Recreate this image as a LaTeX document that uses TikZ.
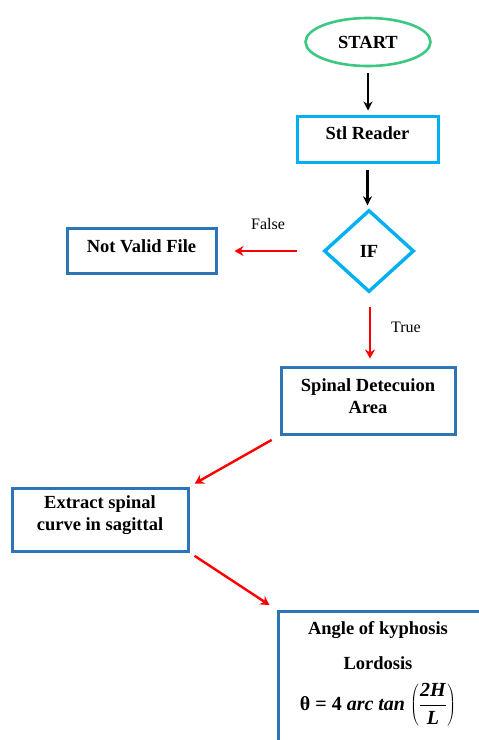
\documentclass[tikz,border=0pt]{standalone}
\usepackage{fontspec}
\setmainfont{Liberation Serif}
\usetikzlibrary{shapes.geometric,arrows.meta}
\definecolor{startgreen}{RGB}{60,200,130}
\definecolor{lightblue}{RGB}{0,176,240}
\definecolor{darkblue}{RGB}{46,117,182}
\definecolor{arrred}{RGB}{255,0,0}
\tikzset{
  boxtext/.style={font=\fontsize{18.5}{22}\selectfont\bfseries, align=center},
  lbox/.style={draw=lightblue, line width=3pt, inner sep=0pt},
  dbox/.style={draw=darkblue, line width=3pt, inner sep=0pt},
  blackarrow/.style={-{Stealth[length=9pt,width=9pt]}, line width=2.4pt, black},
  redarrow/.style={-{Stealth[length=9pt,width=10pt]}, line width=2.4pt, arrred},
  lbl/.style={font=\fontsize{16}{19}\selectfont}
}
\begin{document}
\begin{tikzpicture}[x=1pt,y=-1pt]
\clip (0,0) rectangle (479,740);
\fill[white] (0,0) rectangle (479,740);
% nodes
\node[ellipse, draw=startgreen, line width=2.6pt, minimum width=125pt, minimum height=48pt, inner sep=0pt, boxtext] (start) at (368,42) {START};
\node[lbox, minimum width=141pt, minimum height=46pt] (stl) at (367.5,139) {};
\node[boxtext] (stltext) at (367.5,133) {Stl Reader};
\node[diamond, draw=lightblue, line width=3.4pt, minimum width=90pt, minimum height=82pt, inner sep=0pt, boxtext] (if) at (369,251) {IF};
\node[dbox, minimum width=149pt, minimum height=45pt] (nv) at (141.5,250.5) {};
\node[boxtext] (nvtext) at (141.5,246) {Not Valid File};
\node[dbox, minimum width=174pt, minimum height=67pt] (sp) at (368,400.5) {};
\node[boxtext] (sptext) at (368,396) {Spinal Detecuion\\Area};
\node[dbox, minimum width=176pt, minimum height=63pt] (ex) at (100,519.5) {};
\node[boxtext] (extext) at (100,515) {Extract spinal\\curve in sagittal};
\node[dbox, minimum width=215pt, minimum height=150pt, anchor=north west] (ang) at (277,610) {};
\node[boxtext] (a1) at (378,630) {Angle of kyphosis};
\node[boxtext] (a2) at (378,663) {Lordosis};
\node[boxtext, font=\fontsize{20}{24}\selectfont\bfseries] (a3) at (378,705) {θ = 4 \textit{arc tan} $\left(\displaystyle\frac{\textbf{\textit{2H}}}{\textbf{\textit{L}}}\right)$};
% labels
\node[lbl] (lfalse) at (268,224) {False};
\node[lbl] (ltrue) at (406,327) {True};
% connectors
\draw[blackarrow, shorten <=6pt, shorten >=4pt] (start.south) -- (start.south |- stl.north);
\draw[blackarrow, shorten <=6pt, shorten >=3pt] (stl.south) -- (stl.south |- if.north);
\draw[redarrow, shorten <=25pt, shorten >=17pt] (if.west) -- (if.west -| nv.east);
\draw[redarrow, shorten <=13pt, shorten >=7pt] ([xshift=1pt]if.south) -- ([xshift=1pt]if.south |- sp.north);
\draw[redarrow, shorten <=9pt, shorten >=6pt] (sp.south west) -- (ex.north east);
\draw[redarrow, shorten <=6pt, shorten >=9pt] (ex.south east) -- (ang.north west);
\end{tikzpicture}
\end{document}
